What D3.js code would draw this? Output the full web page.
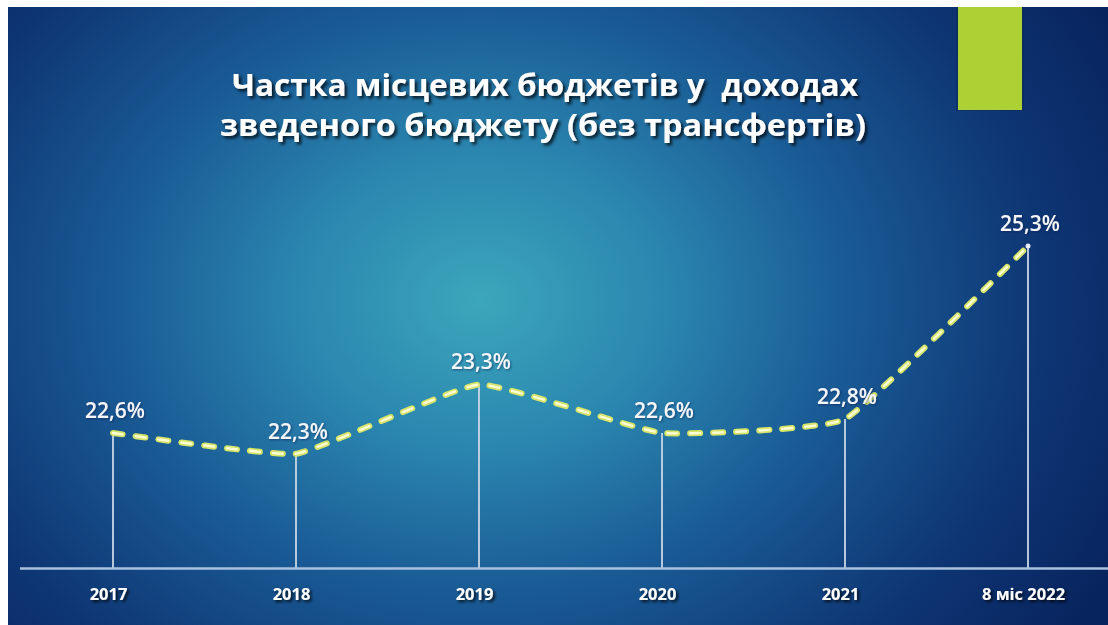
<!DOCTYPE html>
<html><head><meta charset="utf-8">
<script src="https://cdn.jsdelivr.net/npm/d3@7"></script>
<style>
html,body{margin:0;padding:0;background:#fff;}
svg{display:block;}
</style></head>
<body>
<svg id="chart" width="1108" height="625"></svg>
<script>
const categories = ["2017", "2018", "2019", "2020", "2021", "8 міс 2022"];
const values = [22.6, 22.3, 23.3, 22.6, 22.8, 25.3];
const titleLines = ["Частка місцевих бюджетів у  доходах", "зведеного бюджету (без трансфертів)"];

const svg = d3.select("#chart");
const defs = svg.append("defs");

const rg = defs.append("radialGradient").attr("id","bg")
  .attr("gradientUnits","userSpaceOnUse")
  .attr("cx",480).attr("cy",300).attr("r",720)
  .attr("gradientTransform","translate(480,300) scale(1,0.8) translate(-480,-300)");
[[0,"#3ca6bb"],[0.25,"#2b87b0"],[0.5,"#1a5c96"],[0.78,"#0e3674"],[1,"#08245e"]]
  .forEach(([o,c])=>rg.append("stop").attr("offset",o).attr("stop-color",c));

const sh = defs.append("filter").attr("id","shadow").attr("x","-10%").attr("y","-30%").attr("width","130%").attr("height","180%");
sh.append("feDropShadow").attr("dx",2.5).attr("dy",2.5).attr("stdDeviation",1.6).attr("flood-color","#000").attr("flood-opacity",0.75);
const sh2 = defs.append("filter").attr("id","shadow2").attr("x","-10%").attr("y","-30%").attr("width","130%").attr("height","180%");
sh2.append("feDropShadow").attr("dx",2).attr("dy",2).attr("stdDeviation",1.5).attr("flood-color","#000").attr("flood-opacity",0.8);
const sh3 = defs.append("filter").attr("id","shadow3").attr("x","-10%").attr("y","-30%").attr("width","130%").attr("height","180%");
sh3.append("feDropShadow").attr("dx",1).attr("dy",1).attr("stdDeviation",1).attr("flood-color","#0a2050").attr("flood-opacity",0.6);

// panel
svg.append("rect").attr("x",8).attr("y",7).attr("width",1100).attr("height",618).attr("fill","url(#bg)");

// green accent
svg.append("rect").attr("x",956).attr("y",7).attr("width",68).attr("height",104).attr("fill","#0a2a5a").attr("opacity",0.5);
svg.append("rect").attr("x",958).attr("y",7).attr("width",64).attr("height",103).attr("fill","#add135");

// title
const title = svg.append("g").attr("filter","url(#shadow)");
const tPos = [{x:545,y:96,w:626},{x:543,y:136,w:646}];
titleLines.forEach((t,i)=>{
  title.append("text").attr("x",tPos[i].x).attr("y",tPos[i].y)
    .attr("text-anchor","middle").style("white-space","pre")
    .attr("font-family","'Open Sans', sans-serif").attr("font-weight","bold")
    .attr("font-size",30).attr("fill","#fff")
    .attr("textLength",tPos[i].w).attr("lengthAdjust","spacingAndGlyphs")
    .text(t);
});

// scales
const x = d3.scalePoint().domain(categories).range([113,1028]);
const y = d3.scaleLinear().domain([20.65,25.3]).range([568,246]);
const axisY = y(20.65);

// drop lines
svg.append("g").selectAll("line").data(values).join("line")
  .attr("x1",(d,i)=>x(categories[i])).attr("x2",(d,i)=>x(categories[i]))
  .attr("y1",d=>y(d)).attr("y2",axisY)
  .attr("stroke","#c9d6e6").attr("stroke-width",2).attr("opacity",0.9);

// axis
const axis = d3.axisBottom(x).tickSize(0).tickPadding(0);
const ag = svg.append("g").attr("transform",`translate(0,${axisY})`).call(axis);
ag.select(".domain").remove();
svg.append("line").attr("x1",20).attr("x2",1108).attr("y1",axisY+0.5).attr("y2",axisY+0.5)
  .attr("stroke","#a9c2de").attr("stroke-width",2.5);
ag.selectAll(".tick text")
  .attr("dy",0).attr("y",32).attr("x",-5)
  .attr("font-family","'Open Sans', sans-serif").attr("font-weight","bold")
  .attr("font-size",16.5).attr("fill","#fff").attr("filter","url(#shadow2)");

// line
const pts = values.map((v,i)=>[x(categories[i]), y(v)]);
const line = d3.line().curve(d3.curveCardinal.tension(0.65));
svg.append("path").attr("d",line(pts)).attr("fill","none")
  .attr("stroke","#d6e468").attr("stroke-width",6)
  .attr("stroke-dasharray","10,13").attr("stroke-linecap","round");
svg.append("path").attr("d",line(pts)).attr("fill","none")
  .attr("stroke","#fbfdd8").attr("stroke-width",2.4)
  .attr("stroke-dasharray","10,13").attr("stroke-linecap","round");

// end dot on last point
svg.append("circle").attr("cx",pts[pts.length-1][0]).attr("cy",pts[pts.length-1][1]).attr("r",2.5).attr("fill","#e6eef8");

// value labels
const fmt = d3.format(".1f");
svg.append("g").selectAll("text").data(values).join("text")
  .attr("x",(d,i)=>x(categories[i])+2).attr("y",d=>y(d)-15)
  .attr("text-anchor","middle")
  .attr("font-family","'Open Sans', sans-serif").attr("font-weight","600")
  .attr("font-size",21).attr("fill","#f4f6fa").attr("filter","url(#shadow3)")
  .text(d=>fmt(d).replace(".",",")+"%");
</script>
</body></html>
